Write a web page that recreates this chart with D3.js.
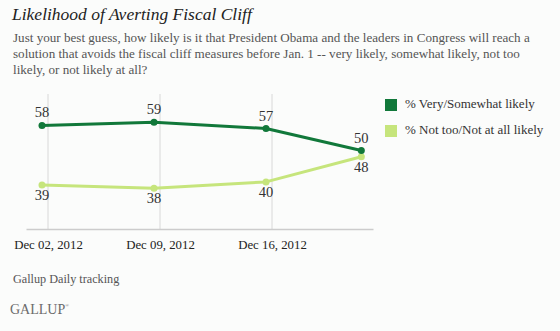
<!DOCTYPE html>
<html>
<head>
<meta charset="utf-8">
<script src="https://cdn.jsdelivr.net/npm/d3@7"></script>
<style>
  html, body { margin: 0; padding: 0; background: #fbfcfb; }
  svg { display: block; }
</style>
</head>
<body>
<svg id="chart" width="560" height="331"></svg>
<script>
// ---- Data ----
const dates = ["2012-12-01T15:00", "2012-12-08T15:00", "2012-12-15T15:00", "2012-12-21T14:00"];
const verySomewhat = [58, 59, 57, 50];
const notTooNotAtAll = [39, 38, 40, 48];
const tickDates = ["2012-12-02", "2012-12-09", "2012-12-16"];
const seriesNames = ["% Very/Somewhat likely", "% Not too/Not at all likely"];
const title = "Likelihood of Averting Fiscal Cliff";
const subtitleLines = [
  "Just your best guess, how likely is it that President Obama and the leaders in Congress will reach a",
  "solution that avoids the fiscal cliff measures before Jan. 1 -- very likely, somewhat likely, not too",
  "likely, or not likely at all?"
];
const source = "Gallup Daily tracking";

// ---- Setup ----
const parse = d3.isoParse;
const svg = d3.select("#chart");
const serif = "'Liberation Serif', 'DejaVu Serif', serif";
const colors = ["#11783a", "#c6e57c"];

svg.append("rect").attr("width", 560).attr("height", 331).attr("fill", "#fbfcfb");

svg.append("text").attr("x", 12).attr("y", 20)
  .attr("font-family", serif).attr("font-style", "italic")
  .attr("font-size", 17.5).attr("fill", "#222").text(title);

svg.selectAll("text.sub").data(subtitleLines).join("text")
  .attr("class", "sub")
  .attr("x", 13).attr("y", (d, i) => 42 + i * 16)
  .attr("font-family", serif).attr("font-size", 13.1).attr("fill", "#555")
  .text(d => d);

const x = d3.scaleTime()
  .domain([parse("2012-11-30T15:00"), parse("2012-12-22T07:30")])
  .range([26, 373]);
const y = d3.scaleLinear().domain([25, 68]).range([229, 94]);

// gridlines
svg.append("g").selectAll("line").data(tickDates).join("line")
  .attr("x1", d => x(parse(d))).attr("x2", d => x(parse(d)))
  .attr("y1", y(68)).attr("y2", y(25))
  .attr("stroke", "#d8d8d8").attr("stroke-width", 1);

// axis
const axis = d3.axisBottom(x)
  .tickValues(tickDates.map(parse))
  .tickFormat(d3.timeFormat("%b %d, %Y"))
  .tickSize(0).tickPadding(11);
const ax = svg.append("g").attr("transform", `translate(0,${y(25)})`).call(axis);
ax.select(".domain").attr("stroke", "#cccccc").attr("stroke-width", 1.5);
ax.selectAll("text").attr("font-family", serif).attr("font-size", 12.8).attr("fill", "#222");

const seriesList = [verySomewhat, notTooNotAtAll];
const line = d3.line().x((d, i) => x(parse(dates[i]))).y(d => y(d));

// draw light first, dark on top
[1, 0].forEach(s => {
  const vals = seriesList[s];
  svg.append("path").datum(vals)
    .attr("d", line).attr("fill", "none")
    .attr("stroke", colors[s]).attr("stroke-width", 3)
    .attr("stroke-linejoin", "round");
  svg.append("g").selectAll("circle").data(vals).join("circle")
    .attr("cx", (d, i) => x(parse(dates[i]))).attr("cy", d => y(d))
    .attr("r", 3.5).attr("fill", colors[s]);
  svg.append("g").selectAll("text").data(vals).join("text")
    .attr("x", (d, i) => x(parse(dates[i])))
    .attr("y", d => s === 0 ? y(d) - 8 : y(d) + 15)
    .attr("text-anchor", "middle")
    .attr("font-family", serif).attr("font-size", 14.5).attr("fill", "#333")
    .text(d => d);
});

// legend
const lg = svg.append("g");
seriesNames.forEach((n, i) => {
  lg.append("rect").attr("x", 385).attr("y", 99 + i * 26)
    .attr("width", 12).attr("height", 12).attr("fill", colors[i]);
  lg.append("text").attr("x", 405).attr("y", 108 + i * 26)
    .attr("font-family", serif).attr("font-size", 13).attr("fill", "#333")
    .text(n);
});

// footer
svg.append("text").attr("x", 13).attr("y", 283)
  .attr("font-family", serif).attr("font-size", 12.2).attr("fill", "#555")
  .text(source);
const g = svg.append("text").attr("x", 10).attr("y", 314)
  .attr("font-family", serif).attr("font-size", 14).attr("fill", "#6b6b6b");
g.append("tspan").text("GALLUP");
g.append("tspan").attr("font-size", 5).attr("dy", -7).text("®");
</script>
</body>
</html>
